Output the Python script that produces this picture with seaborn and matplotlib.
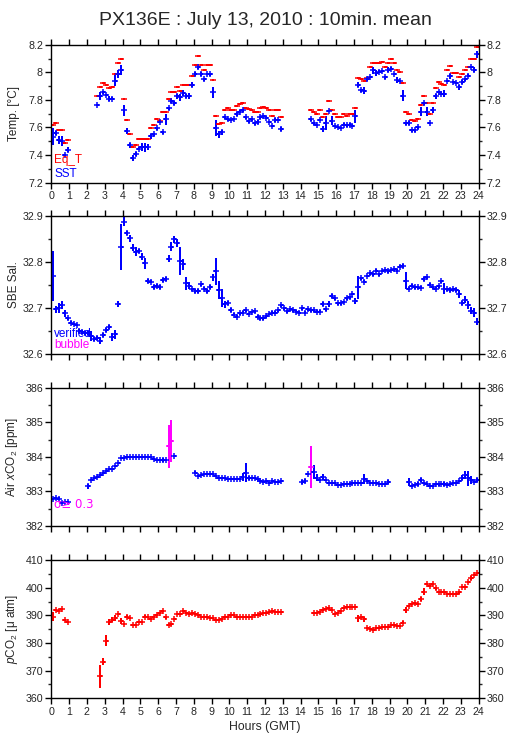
import numpy as np
import matplotlib
matplotlib.use("Agg")
import matplotlib.pyplot as plt
from matplotlib.ticker import MultipleLocator
import seaborn as sns

nan = np.nan

# 10-minute bins over 24 h (144 bins); bin centres in hours
hours = np.arange(144) / 6.0 + 1.0 / 12.0

sst = [7.533, 7.56, 7.51, 7.50, 7.40, 7.44,
       nan, nan, nan, nan, nan, nan,
       nan, nan, nan, 7.76, 7.83, 7.855,
       7.835, 7.81, 7.81, 7.94, 7.99, 8.015,
       7.725, 7.575, 7.47, 7.38, 7.41, 7.445,
       7.46, 7.455, 7.46, 7.535, 7.55, 7.595,
       7.64, 7.565, 7.66, 7.74, 7.795, 7.78,
       7.825, 7.82, 7.85, 7.83, 7.83, 7.91,
       7.99, 8.035, 7.985, 7.95, 7.99, 7.985,
       7.855, 7.595, 7.55, 7.565, 7.675, 7.66,
       7.655, 7.66, 7.70, 7.715, 7.725, 7.675,
       7.645, 7.66, 7.63, 7.64, 7.675, 7.68,
       7.67, 7.64, 7.61, 7.655, 7.655, 7.59,
       nan, nan, nan, nan, nan, nan,
       nan, nan, nan, 7.66, 7.63, 7.62,
       7.655, 7.59, 7.63, 7.72, 7.65, 7.61,
       7.60, 7.595, 7.62, 7.615, 7.62, 7.61,
       7.68, 7.91, 7.87, 7.865, 7.95, 7.965,
       8.015, 7.995, 8.005, 8.01, 7.965, 8.02,
       8.025, 7.99, 7.945, 7.94, 7.83, 7.63,
       7.63, 7.58, 7.58, 7.60, 7.715, 7.775,
       7.715, 7.63, 7.725, 7.825, 7.86, 7.845,
       7.845, 7.94, 7.97, 7.93, 7.92, 7.89,
       7.93, 7.95, 7.975, 8.035, 8.02, 8.13]

sst_std = [.06, .015, .03, .035, .01, .015,
           nan, nan, nan, nan, nan, nan,
           nan, nan, nan, .005, .03, .01,
           .005, .015, .01, .04, .03, .035,
           .04, .02, .02, .02, .015, .01,
           .03, .03, .02, .015, .01, .01,
           .01, .01, .04, .01, .015, .015,
           .015, .025, .02, .015, .02, .02,
           .015, .01, .015, .01, .005, .01,
           .04, .06, .025, .02, .01, .01,
           .005, .005, .015, .01, .01, .01,
           .01, .01, .01, .015, .01, .01,
           .01, .01, .01, .015, .01, .015,
           nan, nan, nan, nan, nan, nan,
           nan, nan, nan, .01, .01, .005,
           .01, .02, .05, .005, .03, .01,
           .005, .005, .01, .01, .01, .01,
           .05, .02, .01, .025, .01, .005,
           .025, .02, .01, .005, .01, .015,
           .01, .005, .02, .005, .04, .01,
           .015, .01, .01, .01, .03, .01,
           .03, .005, .02, .015, .005, .01,
           .025, .005, .015, .005, .005, .015,
           .015, .01, .01, .005, .02, .025]

eq_t = [7.615, 7.63, 7.58, 7.58, 7.485, 7.51,
        nan, nan, nan, nan, nan, nan,
        nan, nan, nan, 7.83, 7.89, 7.92,
        7.905, 7.885, 7.89, 7.99, 8.065, 8.10,
        7.81, 7.655, 7.555, 7.455, 7.475, 7.52,
        7.52, 7.52, 7.52, 7.595, 7.615, 7.66,
        7.645, 7.71, 7.71, 7.81, 7.855, 7.855,
        7.89, 7.865, 7.91, 7.905, 7.905, 7.975,
        8.055, 8.12, 8.055, 8.02, 8.055, 8.055,
        7.945, 7.68, 7.625, 7.63, 7.73, 7.74,
        7.725, 7.725, 7.755, 7.77, 7.78, 7.74,
        7.735, 7.73, 7.71, 7.71, 7.74, 7.75,
        7.74, 7.725, 7.68, 7.725, 7.73, 7.675,
        nan, nan, nan, nan, nan, nan,
        nan, nan, nan, 7.73, 7.71, 7.695,
        7.725, 7.675, 7.70, 7.79, 7.73, 7.695,
        7.675, 7.675, 7.695, 7.68, 7.695, 7.695,
        7.74, 7.96, 7.95, 7.94, 7.96, 8.035,
        8.07, 8.065, 8.065, 8.075, 8.035, 8.07,
        8.095, 8.065, 8.015, 8.0, 7.925, 7.71,
        7.70, 7.655, 7.645, 7.66, 7.76, 7.83,
        7.78, 7.70, 7.775, 7.885, 7.93, 7.915,
        7.905, 8.015, 8.045, 7.995, 7.995, 7.965,
        7.99, 8.02, 8.035, 8.095, 8.095, 8.18]

sal = [32.769, 32.697, 32.70, 32.706, 32.688, 32.677,
       32.668, 32.665, 32.663, 32.65, 32.648, 32.646,
       32.646, 32.639, 32.632, 32.635, 32.629, 32.641,
       32.652, 32.658, 32.637, 32.643, 32.708, 32.833,
       32.887, 32.862, 32.851, 32.831, 32.822, 32.824,
       32.811, 32.797, 32.759, 32.757, 32.745, 32.748,
       32.745, 32.760, 32.763, 32.807, 32.833, 32.849,
       32.841, 32.802, 32.795, 32.753, 32.748, 32.74,
       32.737, 32.737, 32.751, 32.742, 32.737, 32.745,
       32.766, 32.779, 32.739, 32.722, 32.708, 32.711,
       32.695, 32.685, 32.681, 32.688, 32.69, 32.695,
       32.687, 32.691, 32.693, 32.681, 32.677, 32.677,
       32.682, 32.687, 32.69, 32.69, 32.695, 32.706,
       32.699, 32.693, 32.697, 32.695, 32.692, 32.69,
       32.699, 32.69, 32.697, 32.695, 32.695, 32.692,
       32.692, 32.708, 32.697, 32.708, 32.726, 32.721,
       32.71, 32.71, 32.713, 32.721, 32.723, 32.73,
       32.715, 32.745, 32.764, 32.757, 32.769, 32.775,
       32.773, 32.781, 32.773, 32.78, 32.782, 32.779,
       32.782, 32.784, 32.781, 32.789, 32.791, 32.759,
       32.742, 32.748, 32.745, 32.745, 32.744, 32.762,
       32.766, 32.75, 32.745, 32.742, 32.747, 32.758,
       32.742, 32.74, 32.739, 32.74, 32.739, 32.73,
       32.711, 32.718, 32.706, 32.694, 32.69, 32.67]

sal_std = [.054, .008, .01, .008, .008, .004,
           .003, .003, .003, .004, .004, .004,
           .004, .01, .004, .004, .008, .004,
           .004, .004, .008, .01, .006, .05,
           .01, .004, .008, .008, .01, .004,
           .008, .012, .004, .004, .004, .004,
           .004, .004, .004, .008, .01, .008,
           .008, .03, .012, .015, .008, .004,
           .004, .004, .004, .004, .004, .004,
           .008, .03, .02, .02, .008, .004,
           .004, .003, .003, .003, .003, .003,
           .003, .003, .003, .004, .003, .003,
           .003, .003, .004, .003, .003, .003,
           .003, .003, .003, .003, .004, .004,
           .004, .004, .003, .003, .003, .003,
           .003, .004, .003, .006, .004, .003,
           .003, .003, .003, .003, .003, .003,
           .006, .025, .004, .004, .003, .003,
           .003, .003, .003, .003, .003, .003,
           .003, .003, .003, .003, .004, .018,
           .004, .003, .003, .003, .004, .004,
           .004, .003, .003, .003, .003, .003,
           .012, .004, .004, .004, .004, .008,
           .004, .008, .008, .008, .01, .008]

xco2 = [382.79, 382.81, 382.79, 382.67, 382.69, 382.69,
        nan, nan, nan, nan, nan, nan,
        383.15, 383.33, 383.39, 383.42, 383.47, 383.52,
        383.60, 383.64, 383.64, 383.73, 383.83, 383.96,
        383.98, 384.00, 384.00, 384.01, 384.00, 384.00,
        384.00, 384.00, 384.01, 384.00, 383.93, 383.91,
        383.91, 383.91, 383.91, 384.31, 384.46, 384.02,
        nan, nan, nan, nan, nan, nan,
        383.54, 383.44, 383.47, 383.49, 383.49, 383.49,
        383.49, 383.44, 383.40, 383.38, 383.38, 383.37,
        383.35, 383.35, 383.35, 383.35, 383.42, 383.54,
        383.39, 383.39, 383.39, 383.37, 383.30, 383.28,
        383.30, 383.25, 383.30, 383.26, 383.26, 383.30,
        nan, nan, nan, nan, nan, nan,
        383.27, 383.30, 383.49, 383.71, 383.57, 383.40,
        383.33, 383.42, 383.33, 383.23, 383.23, 383.23,
        383.18, 383.18, 383.20, 383.20, 383.21, 383.23,
        383.23, 383.23, 383.25, 383.35, 383.30, 383.25,
        383.23, 383.23, 383.20, 383.21, 383.20, 383.26,
        nan, nan, nan, nan, nan, nan,
        383.27, 383.16, 383.18, 383.21, 383.33, 383.25,
        383.20, 383.16, 383.15, 383.20, 383.20, 383.20,
        383.20, 383.18, 383.21, 383.23, 383.25, 383.31,
        383.40, 383.47, 383.38, 383.33, 383.28, 383.33]

xco2_std = [.03, .02, .05, .02, .02, .02,
            nan, nan, nan, nan, nan, nan,
            .07, .04, .02, .02, .02, .02,
            .02, .02, .02, .02, .02, .02,
            .02, .02, .02, .02, .02, .02,
            .02, .02, .02, .02, .02, .02,
            .02, .05, .02, .63, .62, .03,
            nan, nan, nan, nan, nan, nan,
            .04, .02, .02, .02, .02, .02,
            .02, .02, .02, .02, .02, .02,
            .02, .02, .02, .02, .12, .28,
            .06, .02, .02, .02, .02, .02,
            .02, .02, .02, .02, .02, .02,
            nan, nan, nan, nan, nan, nan,
            .05, .05, .02, .62, .2, .1,
            .02, .08, .02, .02, .02, .02,
            .02, .02, .02, .02, .02, .02,
            .02, .02, .02, .15, .02, .02,
            .02, .02, .02, .02, .02, .06,
            nan, nan, nan, nan, nan, nan,
            .12, .02, .02, .05, .06, .02,
            .02, .02, .02, .02, .05, .02,
            .06, .02, .02, .02, .02, .02,
            .08, .12, .22, .12, .02, .07]

pco2 = [389.6, 392.0, 391.6, 392.4, 388.4, 387.7,
        nan, nan, nan, nan, nan, nan,
        nan, nan, nan, nan, 367.9, 373.3,
        380.8, 387.7, 388.4, 389.0, 390.4, 388.1,
        386.9, 389.6, 389.0, 386.6, 386.6, 387.8,
        387.5, 389.6, 389.6, 388.7, 389.6, 390.0,
        390.8, 391.6, 389.3, 386.6, 386.9, 388.7,
        390.6, 390.6, 391.5, 390.8, 390.6, 390.8,
        390.6, 390.0, 389.3, 389.6, 389.3, 389.0,
        389.0, 388.4, 388.4, 388.7, 389.3, 389.6,
        390.2, 390.2, 389.3, 389.6, 389.6, 389.3,
        389.3, 389.3, 390.1, 390.2, 390.4, 390.8,
        390.8, 391.2, 391.6, 391.2, 391.4, 391.4,
        nan, nan, nan, nan, nan, nan,
        nan, nan, nan, nan, 390.8, 390.8,
        391.2, 392.0, 392.4, 392.6, 392.0, 390.6,
        391.0, 391.8, 392.6, 393.0, 393.2, 393.1,
        393.1, 389.0, 389.3, 388.6, 385.4, 385.0,
        384.8, 385.4, 385.6, 386.0, 386.0, 386.0,
        386.6, 386.6, 386.3, 386.3, 387.4, 392.0,
        393.6, 394.2, 394.4, 394.2, 395.9, 398.6,
        401.3, 400.7, 401.3, 399.9, 398.6, 398.4,
        398.4, 397.7, 397.7, 397.7, 397.7, 398.4,
        400.2, 400.2, 402.0, 403.5, 404.7, 405.5]

pco2_std = [1.5, .3, .4, .3, .4, .3,
            nan, nan, nan, nan, nan, nan,
            nan, nan, nan, nan, 4.1, 1.2,
            2.0, 1.0, .9, 1.0, .3, 1.0,
            .4, .4, .4, .4, .3, .3,
            .3, .4, .3, .3, .3, .3,
            .3, .3, .5, .3, .3, .5,
            .3, .3, .3, .3, .3, .3,
            .3, .3, .3, .3, .3, .3,
            .3, .3, .3, .3, .3, .3,
            .3, .3, .3, .3, .3, .3,
            .3, .3, .3, .3, .3, .3,
            .3, .3, .3, .3, .3, .3,
            nan, nan, nan, nan, nan, nan,
            nan, nan, nan, nan, .3, .3,
            .3, .3, .3, .3, .3, .4,
            .3, .3, .3, .3, .3, .3,
            .3, 1.2, .3, 1.0, .3, .3,
            .3, .3, .3, .3, .3, .3,
            .3, .3, .3, .3, .6, 1.2,
            .3, .3, .3, .3, .8, 1.2,
            .3, .3, .3, .6, .3, .3,
            .3, .3, .3, .3, .3, .6,
            .3, .3, .3, .7, .3, .4]

hour_ticks = list(range(0, 25))
title = "PX136E : July 13, 2010 : 10min. mean"

sns.set_style("ticks")
plt.rcParams["font.family"] = ["Liberation Sans", "DejaVu Sans"]
plt.rcParams["mathtext.fontset"] = "custom"
plt.rcParams["mathtext.rm"] = "Liberation Sans"
plt.rcParams["mathtext.it"] = "Liberation Sans:italic"

BLUE = "#0000ff"
RED = "#ff0000"
MAG = "#ff00ff"

fig = plt.figure(figsize=(5.15, 7.39), dpi=100)
left, width = 0.0996, 0.8297
rects = [(left, 0.7528, width, 0.1867),
         (left, 0.5210, width, 0.1871),
         (left, 0.2886, width, 0.1863),
         (left, 0.0551, width, 0.1867)]
axes = [fig.add_axes(r) for r in rects]


def style(ax, ylim, major, minor, ylabel, xlabels):
    ax.set_xlim(0, 24)
    ax.set_ylim(*ylim)
    ax.set_xticks(hour_ticks)
    ax.yaxis.set_major_locator(MultipleLocator(major))
    ax.yaxis.set_minor_locator(MultipleLocator(minor))
    for s in ax.spines.values():
        s.set_visible(True)
        s.set_linewidth(1.0)
        s.set_color("black")
    ax.tick_params(axis="both", which="major", direction="out", length=4,
                   width=1, color="black", labelsize=7.7, pad=2,
                   top=True, right=True, labelright=True, labelleft=True,
                   labelbottom=xlabels, labeltop=False)
    ax.tick_params(axis="y", which="minor", direction="out", length=2.5,
                   width=1, left=True, right=True)
    ax.set_ylabel(ylabel, fontsize=8.5)
    ax.yaxis.set_label_coords(-0.074, 0.5)
    ax.grid(False)


def bars(ax, x, y, ye, color, marker="+"):
    cont = ax.errorbar(x, y, xerr=1.0 / 12.0, yerr=ye, fmt=marker,
                       color=color, markersize=4.6, markeredgewidth=1.1,
                       capsize=0, elinewidth=1.1, ecolor=color)
    cont.lines[0].set_antialiased(False)
    for lc in cont.lines[2]:
        lc.set_antialiased(False)
    return cont


ax1, ax2, ax3, ax4 = axes
style(ax1, (7.2, 8.2), 0.2, 0.1, "Temp. [°C]", True)
ax1.yaxis.set_major_formatter(plt.FuncFormatter(lambda v, p: f"{v:g}"))
style(ax2, (32.6, 32.9), 0.1, 0.05, "SBE Sal.", False)
ax2.yaxis.set_major_formatter(plt.FuncFormatter(lambda v, p: f"{v:.1f}"))
style(ax3, (382, 386), 1, 0.5, "Air $x$CO$_2$ [ppm]", False)
style(ax4, (360, 410), 10, 5, "$p$CO$_2$ [μ atm]", True)
ax4.set_xlabel("Hours (GMT)", fontsize=8.8, labelpad=3)

# Temperature
bars(ax1, hours, eq_t, None, RED, marker="_")
bars(ax1, hours, sst, sst_std, BLUE)
ax1.text(0.007, 0.145, "Eq_T", color=RED, fontsize=8.5, transform=ax1.transAxes)
ax1.text(0.007, 0.043, "SST", color=BLUE, fontsize=8.5, transform=ax1.transAxes)

# Salinity
bars(ax2, hours, sal, sal_std, BLUE)
ax2.text(0.007, 0.125, "verified", color=BLUE, fontsize=8.5, transform=ax2.transAxes)
ax2.text(0.007, 0.043, "bubble", color=MAG, fontsize=8.5, transform=ax2.transAxes)

# Air xCO2 (std >= 0.3 flagged in magenta)
xv = np.array(xco2)
xs = np.array(xco2_std)
hi = np.nan_to_num(xs) >= 0.3
ax3.text(0.007, 0.131, "σ≥ 0.3", color=MAG, fontsize=8.5, transform=ax3.transAxes,
         family=["DejaVu Sans"])
bars(ax3, hours[~hi], xv[~hi], xs[~hi], BLUE)
bars(ax3, hours[hi], xv[hi], xs[hi], MAG)

# pCO2
bars(ax4, hours, pco2, pco2_std, RED)

fig.text(0.515, 0.984, title, ha="center", va="top", fontsize=14)

fig.savefig("out.png", dpi=100, facecolor="white")
